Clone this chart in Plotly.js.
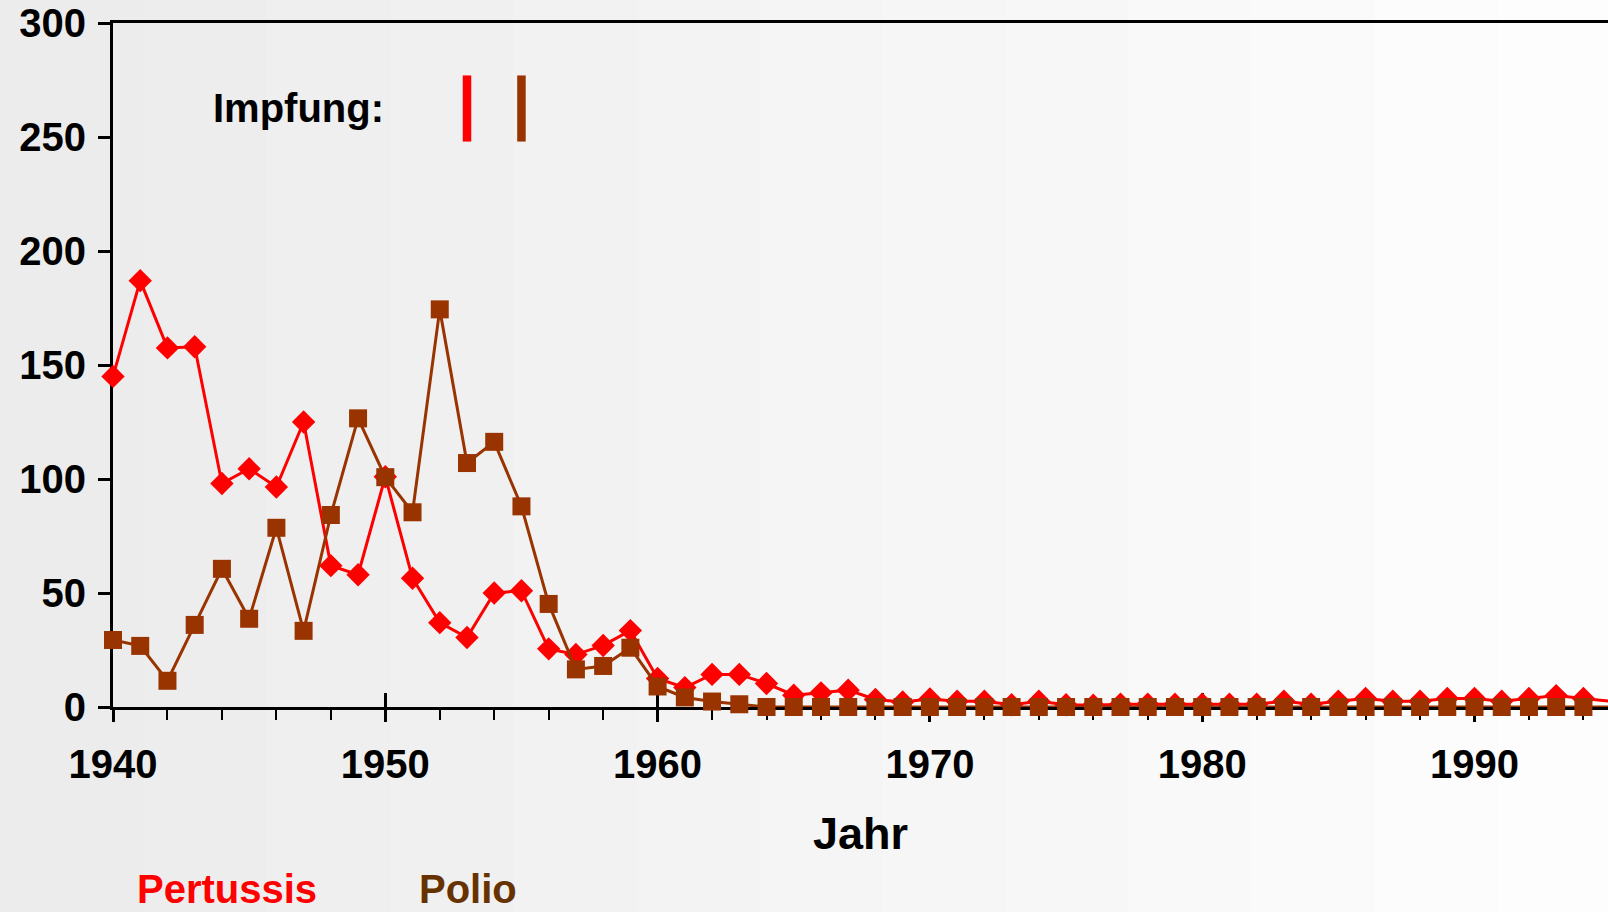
<!DOCTYPE html>
<html>
<head>
<meta charset="utf-8">
<script src="https://cdn.plot.ly/plotly-3.0.1.min.js"></script>
<style>
  html, body { margin: 0; padding: 0; background: #ececec; }
  #chart { width: 1608px; height: 912px; }
</style>
</head>
<body>
<div id="chart"></div>
<script>
// ---- data ----
const years = [1940,1941,1942,1943,1944,1945,1946,1947,1948,1949,
               1950,1951,1952,1953,1954,1955,1956,1957,1958,1959,
               1960,1961,1962,1963,1964,1965,1966,1967,1968,1969,
               1970,1971,1972,1973,1974,1975,1976,1977,1978,1979,
               1980,1981,1982,1983,1984,1985,1986,1987,1988,1989,
               1990,1991,1992,1993,1994,1995];
const pertussis = [145,187,157.5,158,98,104.5,96.5,125,62,58,
                   101,56.5,37,30.5,50,51,25.5,23,27,33.5,
                   12.5,8.5,14.3,14.3,10.3,5.2,6.2,7.4,3.3,2.2,
                   3.5,2.5,2.5,1.0,2.5,1.0,0.8,1.2,1.2,1.2,
                   1.2,1.2,1.2,2.5,1.2,2.5,3.7,2.5,2.5,3.7,
                   3.7,2.5,3.7,5.0,3.7,2.5];
const polio = [29.4,26.8,11.5,36,60.6,38.7,78.6,33.4,84.2,126.6,
               100.8,85.4,174.4,107,116.3,88,45.2,16.5,18,26,
               9,4.2,2.4,1.2,0,0,0,0,0,0,
               0,0,0,0,0,0,0,0,0,0,
               0,0,0,0,0,0,0,0,0,0,
               0,0,0,0,0,0];
const seriesNames = ["Pertussis", "Polio"];
const impfungYears = [1953, 1955];      // Pertussis, Polio vaccination start
const impfungRange = [248, 277];
const xTickVals = [1940, 1950, 1960, 1970, 1980, 1990];
const yTickVals = [0, 50, 100, 150, 200, 250, 300];

// ---- layout helpers ----
const W = 1608, H = 912;
const M = {l: 113, r: 0, t: 23, b: 205};
const plotW = W - M.l - M.r, plotH = H - M.t - M.b;
const px2x = px => (px - M.l) / plotW;
const py2y = py => (H - M.b - py) / plotH;

const RED = '#ff0000', BROWN = '#993300';
const FONT = '"Liberation Sans", Arial, Helvetica, sans-serif';

// stepped background gradient
const bands = [];
const nb = 13;
for (let k = 0; k < nb; k++) {
  const x0 = k === 0 ? -10 : 20 + 123.1 * k;
  const x1 = k === nb - 1 ? W + 10 : 20 + 123.1 * (k + 1);
  const v = Math.round(236 + k * (253 - 236) / (nb - 1));
  bands.push({
    type: 'rect', xref: 'paper', yref: 'paper', layer: 'below',
    x0: px2x(x0), x1: px2x(x1), y0: py2y(H + 10), y1: py2y(-10),
    fillcolor: `rgb(${v},${v},${v})`, line: {width: 0}
  });
}

const impShapes = impfungYears.map((yr, i) => ({
  type: 'line', xref: 'x', yref: 'y', x0: yr, x1: yr,
  y0: impfungRange[0], y1: impfungRange[1],
  line: {color: i === 0 ? RED : BROWN, width: 8.5}
}));

const traces = [
  {
    x: years, y: pertussis, name: seriesNames[0], type: 'scatter', mode: 'lines+markers',
    line: {color: RED, width: 3},
    marker: {symbol: 'diamond', size: 18, color: RED},
    cliponaxis: false
  },
  {
    x: years, y: polio, name: seriesNames[1], type: 'scatter', mode: 'lines+markers',
    line: {color: BROWN, width: 3},
    marker: {symbol: 'square', size: 18, color: BROWN},
    cliponaxis: false
  },
  {
    // invisible trace to activate the overlay axis for crossing major ticks
    x: [years[0]], y: [0], xaxis: 'x2', yaxis: 'y', mode: 'markers',
    marker: {opacity: 0}, hoverinfo: 'skip', showlegend: false
  }
];

const xRange = [1940, 1940 + plotW / 27.23];

const layout = {
  width: W, height: H,
  margin: M,
  paper_bgcolor: '#ececec',
  plot_bgcolor: 'rgba(0,0,0,0)',
  showlegend: false,
  font: {family: FONT, color: '#000', size: 40, weight: 700},
  xaxis: {
    range: xRange, autorange: false, layer: 'below traces',
    tickmode: 'array', tickvals: xTickVals, ticktext: xTickVals.map(String),
    ticks: 'outside', ticklen: 12, tickwidth: 3, tickcolor: '#000',
    minor: {dtick: 2, tick0: 1940, ticks: 'outside', ticklen: 10, tickwidth: 2, tickcolor: '#000'},
    showline: true, linecolor: '#000', linewidth: 3, mirror: true,
    showgrid: false, zeroline: false,
    tickfont: {family: FONT, size: 40, color: '#000', weight: 700},
    ticklabelstandoff: 8,
    title: {text: 'Jahr', font: {family: FONT, size: 45, color: '#000', weight: 700}, standoff: 33},
    automargin: false
  },
  xaxis2: {
    overlaying: 'x', anchor: 'y', side: 'bottom', layer: 'below traces',
    range: xRange, autorange: false,
    tickmode: 'array', tickvals: xTickVals,
    ticks: 'inside', ticklen: 14, tickwidth: 3, tickcolor: '#000',
    showticklabels: false, showline: false, showgrid: false, zeroline: false,
    automargin: false
  },
  yaxis: {
    range: [0, 300], autorange: false, layer: 'below traces',
    tickmode: 'array', tickvals: yTickVals, ticktext: yTickVals.map(String),
    ticks: 'outside', ticklen: 12, tickwidth: 3, tickcolor: '#000',
    showline: true, linecolor: '#000', linewidth: 3,
    showgrid: false, zeroline: false,
    tickfont: {family: FONT, size: 40, color: '#000', weight: 700},
    ticklabelstandoff: 4,
    automargin: false
  },
  shapes: bands.concat(impShapes),
  annotations: [
    {text: 'Impfung:', xref: 'paper', yref: 'paper', x: px2x(211), y: py2y(108),
     xanchor: 'left', yanchor: 'middle', showarrow: false,
     font: {family: FONT, size: 40, color: '#000', weight: 700}},
    {text: seriesNames[0], xref: 'paper', yref: 'paper', x: px2x(135), y: py2y(889),
     xanchor: 'left', yanchor: 'middle', showarrow: false,
     font: {family: FONT, size: 40, color: RED, weight: 700}},
    {text: seriesNames[1], xref: 'paper', yref: 'paper', x: px2x(417), y: py2y(889),
     xanchor: 'left', yanchor: 'middle', showarrow: false,
     font: {family: FONT, size: 40, color: '#663300', weight: 700}}
  ]
};

Plotly.newPlot('chart', traces, layout, {displayModeBar: false, staticPlot: true});
</script>
</body>
</html>
